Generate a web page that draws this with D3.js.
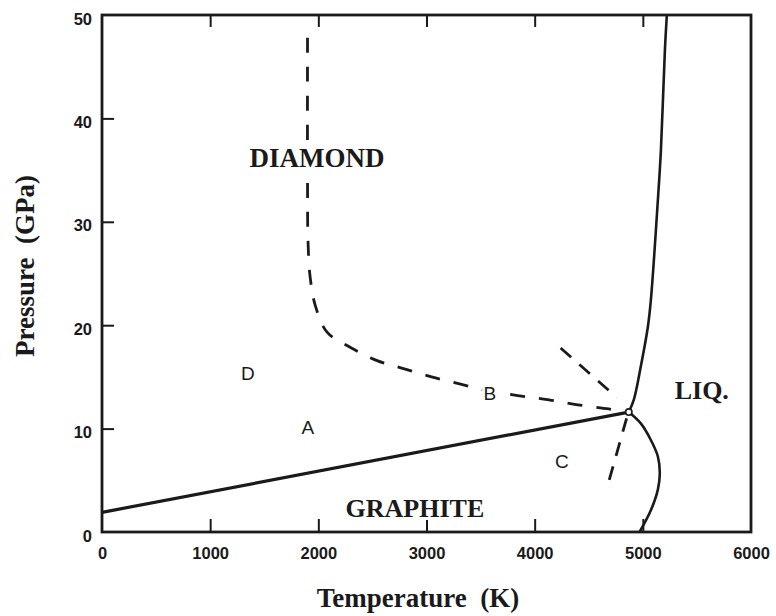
<!DOCTYPE html>
<html>
<head>
<meta charset="utf-8">
<script src="https://cdnjs.cloudflare.com/ajax/libs/d3/7.8.5/d3.min.js"></script>
<style>
  body { margin: 0; background: #fff; }
  svg { display: block; }
</style>
</head>
<body>
<svg id="chart" width="776" height="616"></svg>
<script>
// carbon phase diagram, temperature (K) vs pressure (GPa)
var xTicks = [0, 1000, 2000, 3000, 4000, 5000, 6000];
var yTicks = [0, 10, 20, 30, 40, 50];

var triplePoint = [4870, 11.6];

// solid boundaries
var graphiteDiamond = [[0, 1.9], [4870, 11.6]];
var diamondMelt = [[4870, 11.6], [4917, 12.8], [4981, 16], [5046, 19.8], [5074, 22.4],
                   [5139, 32.1], [5167, 36.9], [5204, 46.6], [5222, 50]];
var graphiteMelt = [[4870, 11.6], [4981, 10.5], [5074, 8.9], [5139, 7.3], [5157, 5.7],
                    [5139, 4.1], [5074, 2.1], [4970, 0]];

// dashed (kinetic) boundaries
var diamondDashed = [[1900, 47.8], [1900, 35], [1905, 28], [1925, 24.6], [1972, 21.9],
                     [2083, 19.3], [2306, 17.8], [2537, 16.6], [2787, 15.8], [3046, 15.0],
                     [3315, 14.3], [3593, 13.6], [3843, 13.2], [4120, 12.8], [4398, 12.3],
                     [4685, 11.9], [4860, 11.6]];
var upperDashed = [[4240, 17.8], [4760, 13.0]];
var lowerDashed = [[4850, 11.0], [4675, 4.5]];

var bigLabels = [["DIAMOND", 1987, 35.3], ["GRAPHITE", 2893, 1.45], ["LIQ.", 5545, 12.9]];
var letterLabels = [["A", 1904, 9.5], ["B", 3586, 12.8], ["C", 4251, 6.2], ["D", 1349, 14.7]];

var svg = d3.select("#chart");
var pLeft = 102, pRight = 751, pTop = 15, pBottom = 532;

var x = d3.scaleLinear().domain([0, 6000]).range([pLeft, pRight]);
var y = d3.scaleLinear().domain([0, 50]).range([pBottom, pTop]);

var ink = "#1a1a1a";

// frame
svg.append("rect")
  .attr("x", pLeft).attr("y", pTop)
  .attr("width", pRight - pLeft).attr("height", pBottom - pTop)
  .attr("fill", "none").attr("stroke", ink).attr("stroke-width", 2.8);

// axes, ticks pointing inward
var xAxis = svg.append("g")
  .attr("transform", "translate(0," + pBottom + ")")
  .call(d3.axisBottom(x).tickValues(xTicks).tickFormat(d3.format("d"))
    .tickSizeInner(-13).tickSizeOuter(0).tickPadding(15));

var xTop = svg.append("g")
  .attr("transform", "translate(0," + pTop + ")")
  .call(d3.axisTop(x).tickValues(xTicks.slice(1, -1)).tickFormat("")
    .tickSizeInner(-12).tickSizeOuter(0));

var yAxis = svg.append("g")
  .attr("transform", "translate(" + pLeft + ",0)")
  .call(d3.axisLeft(y).tickValues(yTicks)
    .tickSizeInner(-12).tickSizeOuter(0).tickPadding(10));

[xAxis, xTop, yAxis].forEach(function(g) {
  g.select(".domain").remove();
  g.selectAll(".tick line").attr("stroke", ink).attr("stroke-width", 2);
  g.selectAll(".tick text")
    .attr("fill", ink)
    .style("font-family", "'Liberation Sans', Arial, sans-serif")
    .style("font-weight", "bold")
    .style("font-size", "16.5px");
});
xAxis.selectAll(".tick line").filter(function(d) { return d == 0 || d == 6000 }).remove();
yAxis.selectAll(".tick line").filter(function(d) { return d == 0 || d == 50 }).remove();
yAxis.selectAll(".tick text").attr("dy", "0.55em");

var line = d3.line()
  .x(function(d) { return x(d[0]) })
  .y(function(d) { return y(d[1]) });
var smooth = d3.line()
  .x(function(d) { return x(d[0]) })
  .y(function(d) { return y(d[1]) })
  .curve(d3.curveCatmullRom.alpha(0.5));

svg.append("path").datum(graphiteDiamond)
  .attr("d", line).attr("fill", "none")
  .attr("stroke", ink).attr("stroke-width", 3.2);

svg.append("path").datum(diamondMelt)
  .attr("d", smooth).attr("fill", "none")
  .attr("stroke", ink).attr("stroke-width", 2.6);

svg.append("path").datum(graphiteMelt)
  .attr("d", smooth).attr("fill", "none")
  .attr("stroke", ink).attr("stroke-width", 2.6);

svg.append("path").datum(diamondDashed)
  .attr("d", smooth).attr("fill", "none")
  .attr("stroke", ink).attr("stroke-width", 2.8)
  .attr("stroke-dasharray", "15,14");

[upperDashed, lowerDashed].forEach(function(seg) {
  svg.append("path").datum(seg)
    .attr("d", line).attr("fill", "none")
    .attr("stroke", ink).attr("stroke-width", 2.8)
    .attr("stroke-dasharray", "14,11");
});

svg.append("circle")
  .attr("cx", x(triplePoint[0])).attr("cy", y(triplePoint[1]))
  .attr("r", 3.2).attr("fill", "#fff")
  .attr("stroke", ink).attr("stroke-width", 1.6);

// region labels, white halo hides the dashes under them
svg.selectAll(".big").data(bigLabels).enter().append("text")
  .attr("class", "big")
  .attr("x", function(d) { return x(d[1]) })
  .attr("y", function(d) { return y(d[2]) })
  .attr("text-anchor", "middle")
  .style("font-family", "'Liberation Serif', 'Times New Roman', serif")
  .style("font-weight", "bold")
  .style("font-size", function(d) { return d[0] == "DIAMOND" ? "27px" : "26px" })
  .style("paint-order", "stroke")
  .attr("stroke", "#fff").attr("stroke-width", 6)
  .attr("fill", ink)
  .text(function(d) { return d[0] });

svg.selectAll(".letter").data(letterLabels).enter().append("text")
  .attr("class", "letter")
  .attr("x", function(d) { return x(d[1]) })
  .attr("y", function(d) { return y(d[2]) })
  .attr("text-anchor", "middle")
  .style("font-family", "'Liberation Sans', Arial, sans-serif")
  .style("font-size", "19px")
  .style("paint-order", "stroke")
  .attr("stroke", "#fff").attr("stroke-width", 6)
  .attr("fill", ink)
  .text(function(d) { return d[0] });

// axis titles
svg.append("text")
  .attr("x", 418).attr("y", 607)
  .attr("text-anchor", "middle")
  .style("font-family", "'Liberation Serif', 'Times New Roman', serif")
  .style("font-weight", "bold").style("font-size", "27px")
  .style("white-space", "pre")
  .attr("fill", ink)
  .text("Temperature  (K)");

svg.append("text")
  .attr("transform", "translate(34,266) rotate(-90)")
  .attr("text-anchor", "middle")
  .style("font-family", "'Liberation Serif', 'Times New Roman', serif")
  .style("font-weight", "bold").style("font-size", "27px")
  .style("white-space", "pre")
  .attr("fill", ink)
  .text("Pressure  (GPa)");
</script>
</body>
</html>
